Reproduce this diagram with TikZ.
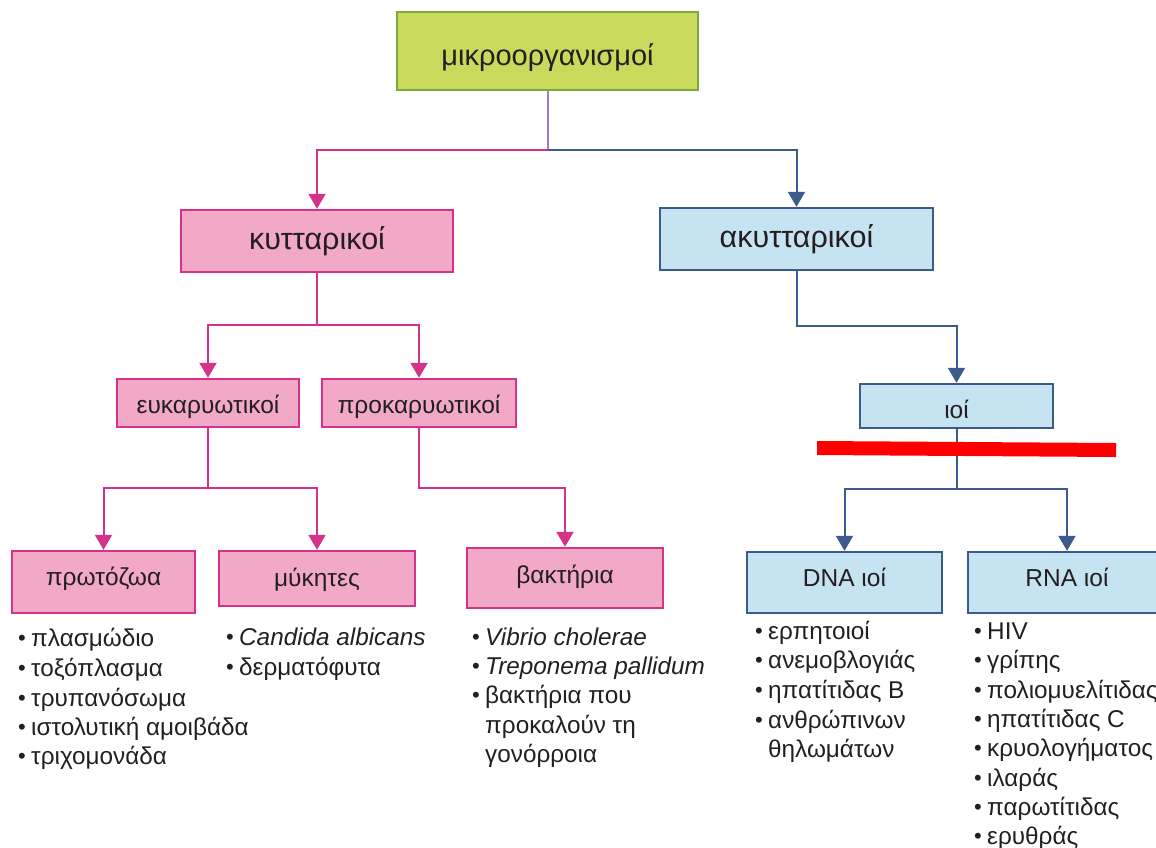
\documentclass[tikz,border=0pt]{standalone}
\usepackage{fontspec}
\setmainfont{Liberation Sans}
\usetikzlibrary{arrows.meta,positioning,calc}
\definecolor{txt}{HTML}{231F20}
\definecolor{gfill}{HTML}{C8D95C}
\definecolor{gline}{HTML}{7FA83A}
\definecolor{pfill}{HTML}{F2A8C7}
\definecolor{pline}{HTML}{D5338A}
\definecolor{bfill}{HTML}{C6E3F2}
\definecolor{bline}{HTML}{3D5A8C}
\definecolor{vline}{HTML}{9E80B8}
\tikzset{
  box/.style={draw, line width=2.4pt, inner sep=0pt, text=txt, anchor=center, text depth=0pt},
  gbox/.style={box, fill=gfill, draw=gline, font=\fontsize{29}{33}\selectfont},
  pbox/.style={box, fill=pfill, draw=pline},
  bbox/.style={box, fill=bfill, draw=bline},
  big/.style={font=\fontsize{30.5}{34}\selectfont},
  small/.style={font=\fontsize{24.5}{28}\selectfont},
  th/.style={text height=#1},
  pcon/.style={draw=pline, line width=2pt, -{Triangle[width=17pt,length=15pt]}, color=pline},
  bcon/.style={draw=bline, line width=2pt, -{Triangle[width=17pt,length=15pt]}, color=bline},
  item/.style={anchor=base west, inner sep=0pt, text=txt, font=\fontsize{24.3}{28}\selectfont},
}
\newcommand{\blt}{\makebox[13pt][l]{\raisebox{0.5pt}{\fontsize{22}{22}\selectfont •}}}
\newcommand{\nob}{\hspace*{13pt}}
\begin{document}
\begin{tikzpicture}[x=1pt,y=-1pt]
\clip (0,0) rectangle (1156,847);
\useasboundingbox (0,0) rectangle (1156,847);

% boxes
\node[gbox, th=28pt, minimum width=301pt, minimum height=78pt] (top) at (547.5,51) {μικροοργανισμοί};
\node[pbox, big, th=17pt, minimum width=272pt, minimum height=62pt] (kyt) at (317,241) {κυτταρικοί};
\node[bbox, big, th=17pt, minimum width=273pt, minimum height=62pt] (akyt) at (796.5,239) {ακυτταρικοί};
\node[pbox, small, th=21pt, minimum width=182pt, minimum height=48pt] (euk) at (208,403) {ευκαρυωτικοί};
\node[pbox, small, th=21pt, minimum width=194pt, minimum height=48pt] (prok) at (419,403) {προκαρυωτικοί};
\node[pbox, small, th=7pt, minimum width=183pt, minimum height=62pt] (prot) at (103.5,582) {πρωτόζωα};
\node[pbox, small, th=15pt, minimum width=196pt, minimum height=55pt] (myk) at (317,578.5) {μύκητες};
\node[pbox, small, th=10pt, minimum width=196pt, minimum height=60pt] (bakt) at (565,578) {βακτήρια};
\node[bbox, small, th=25pt, minimum width=193pt, minimum height=44pt] (ioi) at (956.5,406) {ιοί};
\node[bbox, small, th=7pt, minimum width=195pt, minimum height=61pt] (dna) at (844.5,582.5) {DNA ιοί};
\node[bbox, small, th=7pt, minimum width=198pt, minimum height=61pt] (rna) at (1067,582.5) {RNA ιοί};

% connectors
\coordinate (j1) at (top.south |- 0,150);
\draw[vline, line width=2pt] (top.south) -- (j1);
\draw[pcon] (j1) -| (kyt.north);
\draw[bcon] (j1) -| (akyt.north);
\coordinate (j2) at (kyt.south |- 0,325);
\draw[draw=pline, line width=2pt] (kyt.south) -- (j2);
\draw[pcon] (j2) -| (euk.north);
\draw[pcon] (j2) -| (prok.north);
\coordinate (j3) at (euk.south |- 0,488);
\draw[draw=pline, line width=2pt] (euk.south) -- (j3);
\draw[pcon] (j3) -| (prot.north);
\draw[pcon] (j3) -| (myk.north);
\coordinate (j4) at (prok.south |- 0,488);
\draw[pcon] (prok.south) -- (j4) -| (bakt.north);
\coordinate (j5) at (akyt.south |- 0,326);
\draw[bcon] (akyt.south) -- (j5) -| (ioi.north);
\coordinate (j6) at (ioi.south |- 0,489);
\draw[draw=bline, line width=2pt] (ioi.south) -- (j6);
\draw[bcon] (j6) -| (dna.north);
\draw[bcon] (j6) -| (rna.north);

% red bar
\fill[red] (817,441) -- (1116,443) -- (1116,457) -- (817,455) -- cycle;

% lists
\node[item] (p1) at (18,646) {\blt πλασμώδιο};
\node[item] (p2) at (18,676) {\blt τοξόπλασμα};
\node[item] (p3) at (18,706) {\blt τρυπανόσωμα};
\node[item] (p4) at (18,735) {\blt ιστολυτική αμοιβάδα};
\node[item] (p5) at (18,764) {\blt τριχομονάδα};

\node[item] (m1) at (226,645) {\blt \textit{Candida albicans}};
\node[item] (m2) at (226,675) {\blt δερματόφυτα};

\node[item] (b1) at (472,645) {\blt \textit{Vibrio cholerae}};
\node[item] (b2) at (472,674) {\blt \textit{Treponema pallidum}};
\node[item] (b3) at (472,703) {\blt βακτήρια που};
\node[item] (b4) at (472,733) {\nob προκαλούν τη};
\node[item] (b5) at (472,762) {\nob γονόρροια};

\node[item] (d1) at (755,639) {\blt ερπητοιοί};
\node[item] (d2) at (755,668) {\blt ανεμοβλογιάς};
\node[item] (d3) at (755,698) {\blt ηπατίτιδας Β};
\node[item] (d4) at (755,728) {\blt ανθρώπινων};
\node[item] (d5) at (755,757) {\nob θηλωμάτων};

\node[item] (r1) at (974,639) {\blt HIV};
\node[item] (r2) at (974,668) {\blt γρίπης};
\node[item] (r3) at (974,698) {\blt πολιομυελίτιδας};
\node[item] (r4) at (974,727) {\blt ηπατίτιδας C};
\node[item] (r5) at (974,756) {\blt κρυολογήματος};
\node[item] (r6) at (974,786) {\blt ιλαράς};
\node[item] (r7) at (974,815) {\blt παρωτίτιδας};
\node[item] (r8) at (974,844) {\blt ερυθράς};
\end{tikzpicture}
\end{document}
